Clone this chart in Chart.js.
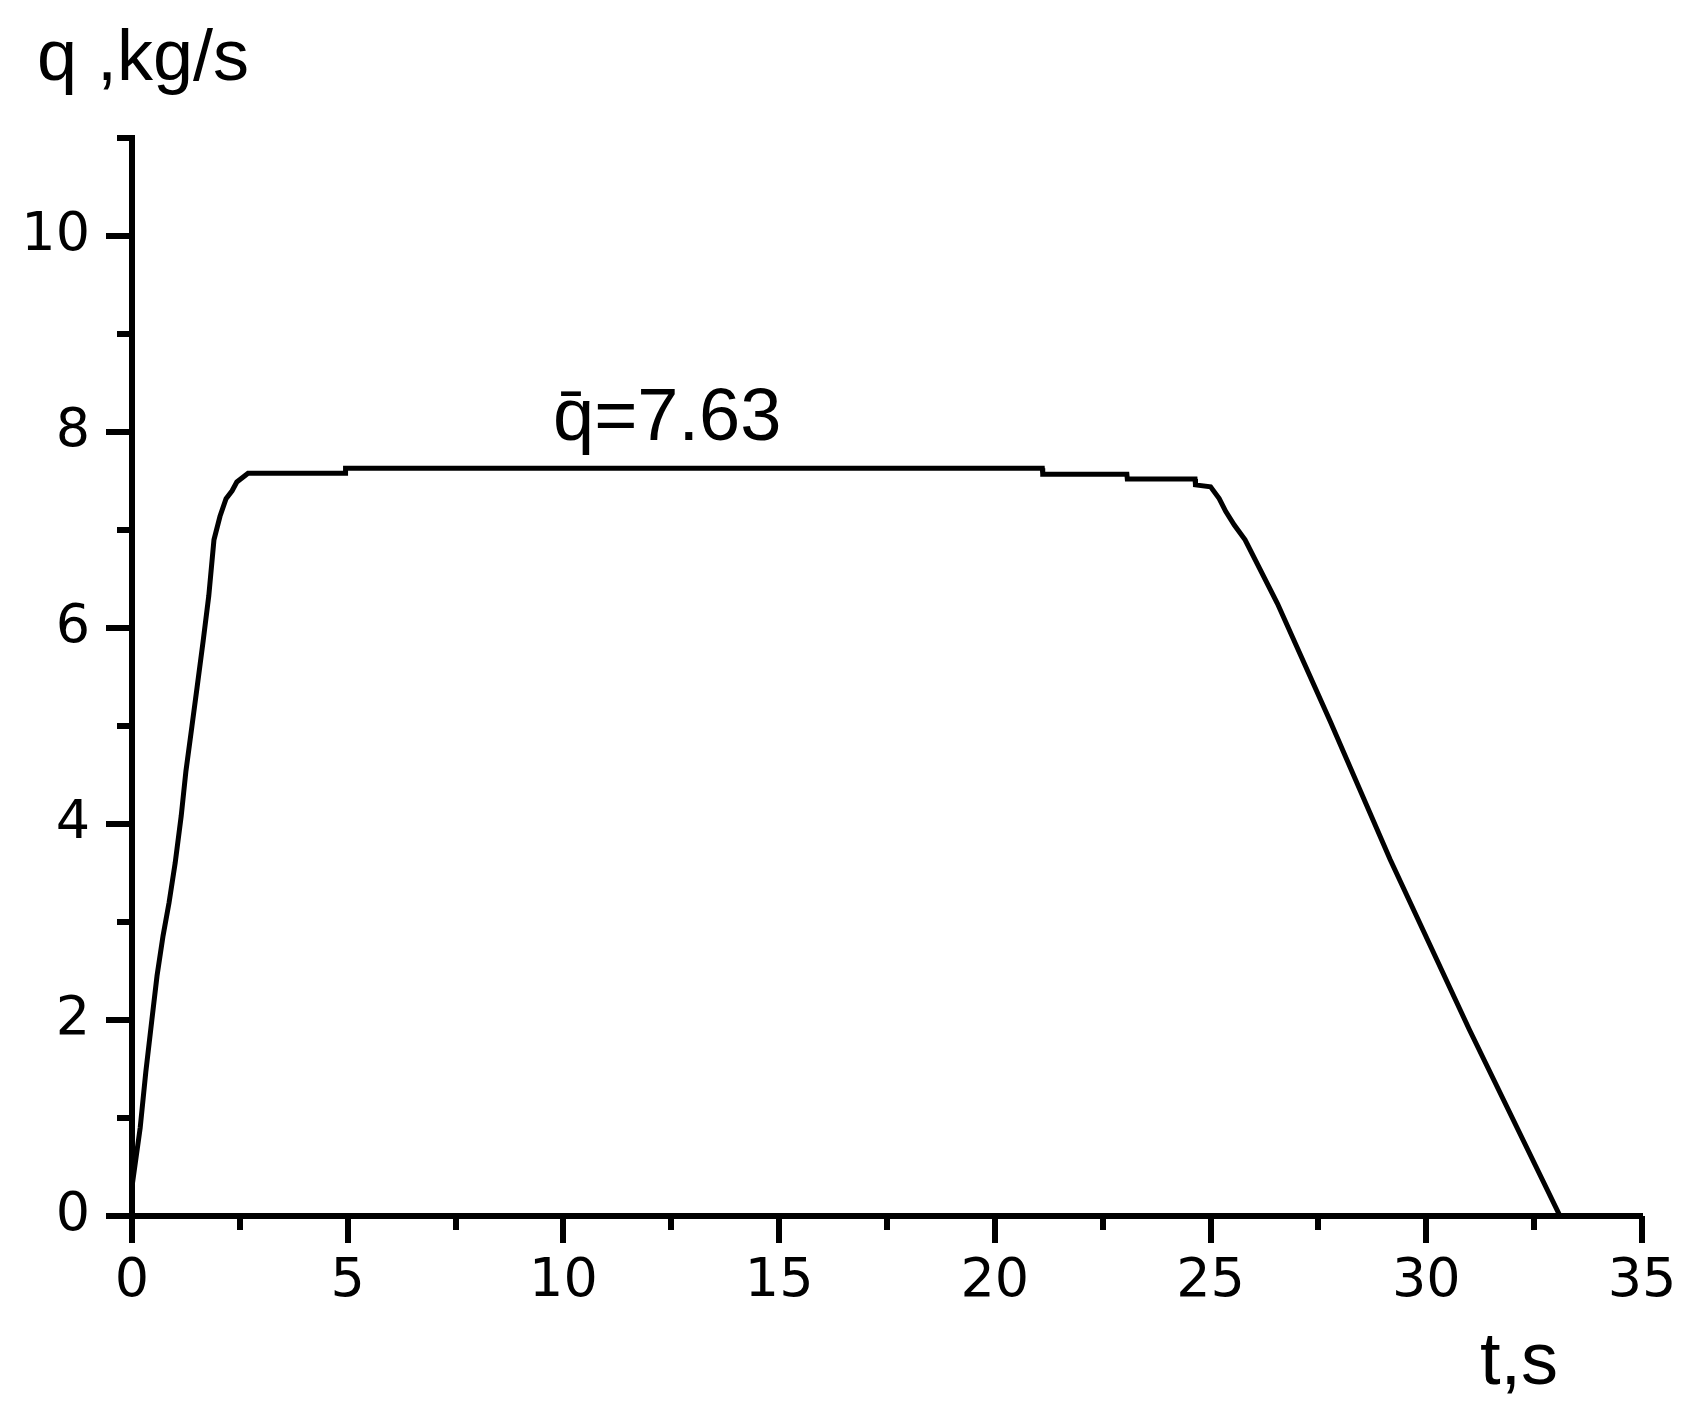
<!DOCTYPE html>
<html>
<head>
<meta charset="utf-8">
<script src="https://cdn.jsdelivr.net/npm/chart.js@4/dist/chart.umd.min.js"></script>
<style>
  html, body { margin: 0; padding: 0; background: #fff; }
  #wrap { width: 1692px; height: 1412px; }
</style>
</head>
<body>
<div id="wrap"><canvas id="chart" width="1692" height="1412"></canvas></div>
<script>
// flow rate q (kg/s) against time t (s)
const timeSec = [0, 0.19, 0.32, 0.46, 0.58, 0.72, 0.86, 1.0, 1.14, 1.25, 1.39, 1.51, 1.65, 1.78, 1.9,
  2.04, 2.18, 2.32, 2.43, 2.69, 4.94, 4.95, 21.1, 21.11, 23.06, 23.07, 24.64, 24.65, 25.0,
  25.2, 25.35, 25.55, 25.8, 26.55, 27.77, 29.16, 31.0, 33.1];
const flowKgS = [0.3, 0.9, 1.47, 2.0, 2.45, 2.86, 3.2, 3.6, 4.08, 4.54, 5.0, 5.4, 5.87, 6.33, 6.9,
  7.14, 7.32, 7.4, 7.49, 7.58, 7.58, 7.63, 7.63, 7.57, 7.57, 7.52, 7.52, 7.46, 7.44,
  7.32, 7.19, 7.05, 6.9, 6.25, 5.05, 3.64, 1.9, 0];

const xTickValues = [0, 5, 10, 15, 20, 25, 30, 35];
const yTickValues = [0, 2, 4, 6, 8, 10];

const yTitle = "q ,kg/s";
const xTitle = "t,s";
const meanLabel = "q\u0304=7.63";

const textFont = '"Liberation Sans", Arial, sans-serif';
const tickFont = '"DejaVu Sans", "Liberation Sans", sans-serif';

// tick marks: long ones at labelled values, short ones in between
const axisTicks = {
  id: "axisTicks",
  afterDraw(chart) {
    const ctx = chart.ctx;
    const { x, y } = chart.scales;
    ctx.save();
    ctx.fillStyle = "#000";
    x.ticks.forEach((t) => {
      const px = Math.round(x.getPixelForValue(t.value));
      const len = xTickValues.includes(t.value) ? 27 : 14;
      ctx.fillRect(px - 3, x.top, 6, len);
    });
    y.ticks.forEach((t) => {
      const py = Math.round(y.getPixelForValue(t.value));
      const len = yTickValues.includes(t.value) ? 26 : 15;
      ctx.fillRect(y.right - len, py - 3, len, 6);
    });

    ctx.textBaseline = "alphabetic";
    ctx.font = "72px " + textFont;
    ctx.fillText(yTitle, 37, 80);
    ctx.font = "74px " + textFont;
    ctx.fillText(xTitle, 1480, 1384);
    ctx.fillText(meanLabel, 553, 440);
    ctx.restore();
  }
};

const canvas = document.getElementById("chart");

new Chart(canvas, {
  type: "line",
  data: {
    datasets: [{
      data: timeSec.map((t, i) => ({ x: t, y: flowKgS[i] })),
      borderColor: "#000",
      borderWidth: 5,
      pointRadius: 0,
      tension: 0,
      fill: false
    }]
  },
  options: {
    responsive: false,
    animation: false,
    devicePixelRatio: 1,
    layout: { padding: { top: 138, right: 50, left: 0, bottom: 0 } },
    plugins: { legend: { display: false }, tooltip: { enabled: false } },
    scales: {
      x: {
        type: "linear",
        min: 0,
        max: 35,
        grid: { display: false, drawTicks: false },
        border: { display: true, color: "#000", width: 6 },
        ticks: {
          stepSize: 2.5,
          autoSkip: false,
          maxRotation: 0,
          padding: 34,
          color: "#000",
          font: { family: tickFont, size: 54 },
          callback: (v) => (xTickValues.includes(v) ? String(v) : "")
        },
        afterFit: (s) => {
          s.height = 196;
          s.paddingLeft = 0;
          s.paddingRight = 0;
        }
      },
      y: {
        min: 0,
        max: 11,
        grid: { display: false, drawTicks: false },
        border: { display: true, color: "#000", width: 6 },
        ticks: {
          stepSize: 1,
          autoSkip: false,
          padding: 42,
          color: "#000",
          font: { family: tickFont, size: 54 },
          callback: (v) => (yTickValues.includes(v) ? String(v) : "")
        },
        afterFit: (s) => {
          s.width = 132;
          s.paddingTop = 0;
          s.paddingBottom = 0;
        }
      }
    }
  },
  plugins: [axisTicks]
});
</script>
</body>
</html>
